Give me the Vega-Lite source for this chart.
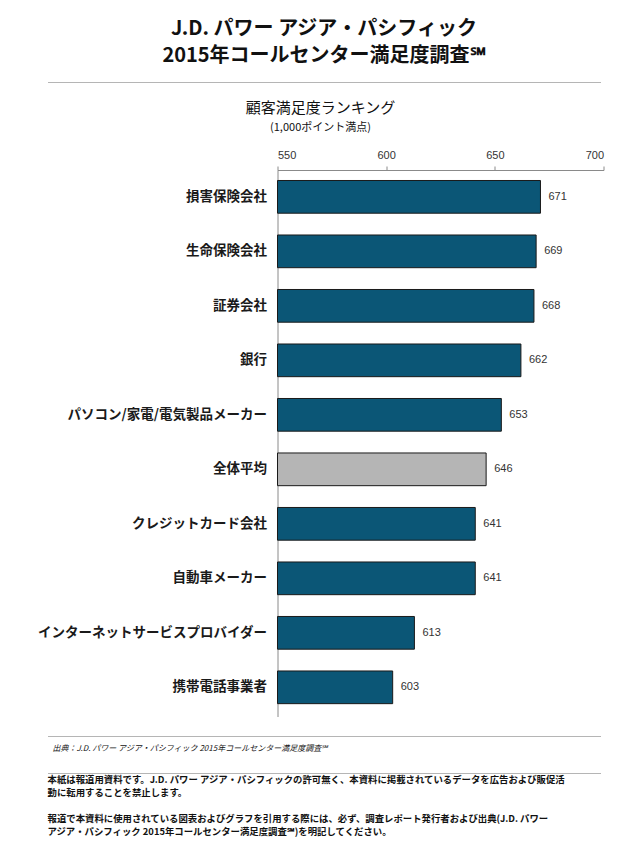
{
  "$schema": "https://vega.github.io/schema/vega-lite/v6.json",
  "padding": {"left": 36.5, "top": 18, "right": 5, "bottom": 5},
  "spacing": 18,
  "config": {
    "font": "Noto Sans CJK JP",
    "view": {"stroke": null}
  },
  "vconcat": [
    {
      "width": 553,
      "height": 0.01,
      "view": {"stroke": "#b5b5b5", "strokeWidth": 1},
      "title": {
        "text": ["J.D. パワー アジア・パシフィック", "2015年コールセンター満足度調査℠"],
        "fontSize": 20,
        "fontWeight": "bold",
        "color": "#111111",
        "anchor": "middle",
        "lineHeight": 27,
        "offset": 16
      },
      "data": {"values": []},
      "mark": "point"
    },
    {
      "width": 556,
      "height": 546.5,
      "title": {
        "text": "顧客満足度ランキング",
        "subtitle": "(1,000ポイント満点)",
        "fontSize": 15,
        "fontWeight": "normal",
        "color": "#111111",
        "subtitleFontSize": 11,
        "subtitleColor": "#111111",
        "subtitlePadding": 6,
        "anchor": "middle",
        "frame": "group",
        "dx": -5,
        "offset": 16
      },
      "data": {
        "values": [
          {"category": "損害保険会社", "score": 671, "group": "業種"},
          {"category": "生命保険会社", "score": 669, "group": "業種"},
          {"category": "証券会社", "score": 668, "group": "業種"},
          {"category": "銀行", "score": 662, "group": "業種"},
          {"category": "パソコン/家電/電気製品メーカー", "score": 653, "group": "業種"},
          {"category": "全体平均", "score": 646, "group": "平均"},
          {"category": "クレジットカード会社", "score": 641, "group": "業種"},
          {"category": "自動車メーカー", "score": 641, "group": "業種"},
          {"category": "インターネットサービスプロバイダー", "score": 613, "group": "業種"},
          {"category": "携帯電話事業者", "score": 603, "group": "業種"}
        ]
      },
      "encoding": {
        "y": {
          "field": "category",
          "type": "nominal",
          "sort": null,
          "scale": {"paddingInner": 0.4, "paddingOuter": 0.214, "align": 0.45},
          "axis": {
            "title": null,
            "ticks": false,
            "domain": true,
            "domainColor": "#8a8a8a",
            "offset": -230,
            "labelFontSize": 13.5,
            "labelFontWeight": "bold",
            "labelColor": "#1a1a1a",
            "labelPadding": 11,
            "labelLimit": 300
          }
        },
        "x": {
          "field": "score",
          "type": "quantitative",
          "scale": {"domain": [550, 700], "zero": false, "range": [230, 556]},
          "axis": {
            "orient": "top",
            "title": null,
            "values": [550, 600, 650, 700],
            "grid": false,
            "domainColor": "#8a8a8a",
            "tickColor": "#8a8a8a",
            "tickSize": 4,
            "labelFontSize": 11,
            "labelColor": "#333333",
            "labelPadding": 6,
            "labelFont": "Liberation Sans"
          }
        }
      },
      "layer": [
        {
          "mark": {"type": "bar", "stroke": "#1a1a1a", "strokeWidth": 1},
          "encoding": {
            "x2": {"datum": 550},
            "color": {
              "field": "group",
              "type": "nominal",
              "scale": {"domain": ["業種", "平均"], "range": ["#0b5676", "#b5b5b5"]},
              "legend": null
            }
          }
        },
        {
          "mark": {"type": "text", "align": "left", "dx": 8, "fontSize": 11, "color": "#333333", "font": "Liberation Sans"},
          "encoding": {"text": {"field": "score", "type": "quantitative"}}
        }
      ]
    },
    {
      "width": 553,
      "height": 0.01,
      "view": {"stroke": "#b5b5b5", "strokeWidth": 1},
      "title": {
        "text": "出典：J.D. パワー アジア・パシフィック 2015年コールセンター満足度調査℠",
        "orient": "bottom",
        "anchor": "start",
        "dx": 5,
        "fontSize": 8,
        "fontStyle": "italic",
        "fontWeight": "normal",
        "color": "#111111",
        "offset": 9
      },
      "data": {"values": []},
      "mark": "point"
    },
    {
      "width": 553,
      "height": 0.01,
      "view": {"stroke": "#b5b5b5", "strokeWidth": 1},
      "title": {
        "text": ["本紙は報道用資料です。J.D. パワー アジア・パシフィックの許可無く、本資料に掲載されているデータを広告および販促活", "動に転用することを禁止します。"],
        "subtitle": ["報道で本資料に使用されている図表およびグラフを引用する際には、必ず、調査レポート発行者および出典(J.D. パワー", "アジア・パシフィック 2015年コールセンター満足度調査℠)を明記してください。"],
        "orient": "bottom",
        "anchor": "start",
        "fontSize": 9.4,
        "fontWeight": "bold",
        "color": "#111111",
        "lineHeight": 13,
        "subtitleFontSize": 9.4,
        "subtitleFontWeight": "bold",
        "subtitleColor": "#111111",
        "subtitleLineHeight": 13,
        "subtitlePadding": 17,
        "offset": 3
      },
      "data": {"values": []},
      "mark": "point"
    }
  ]
}
